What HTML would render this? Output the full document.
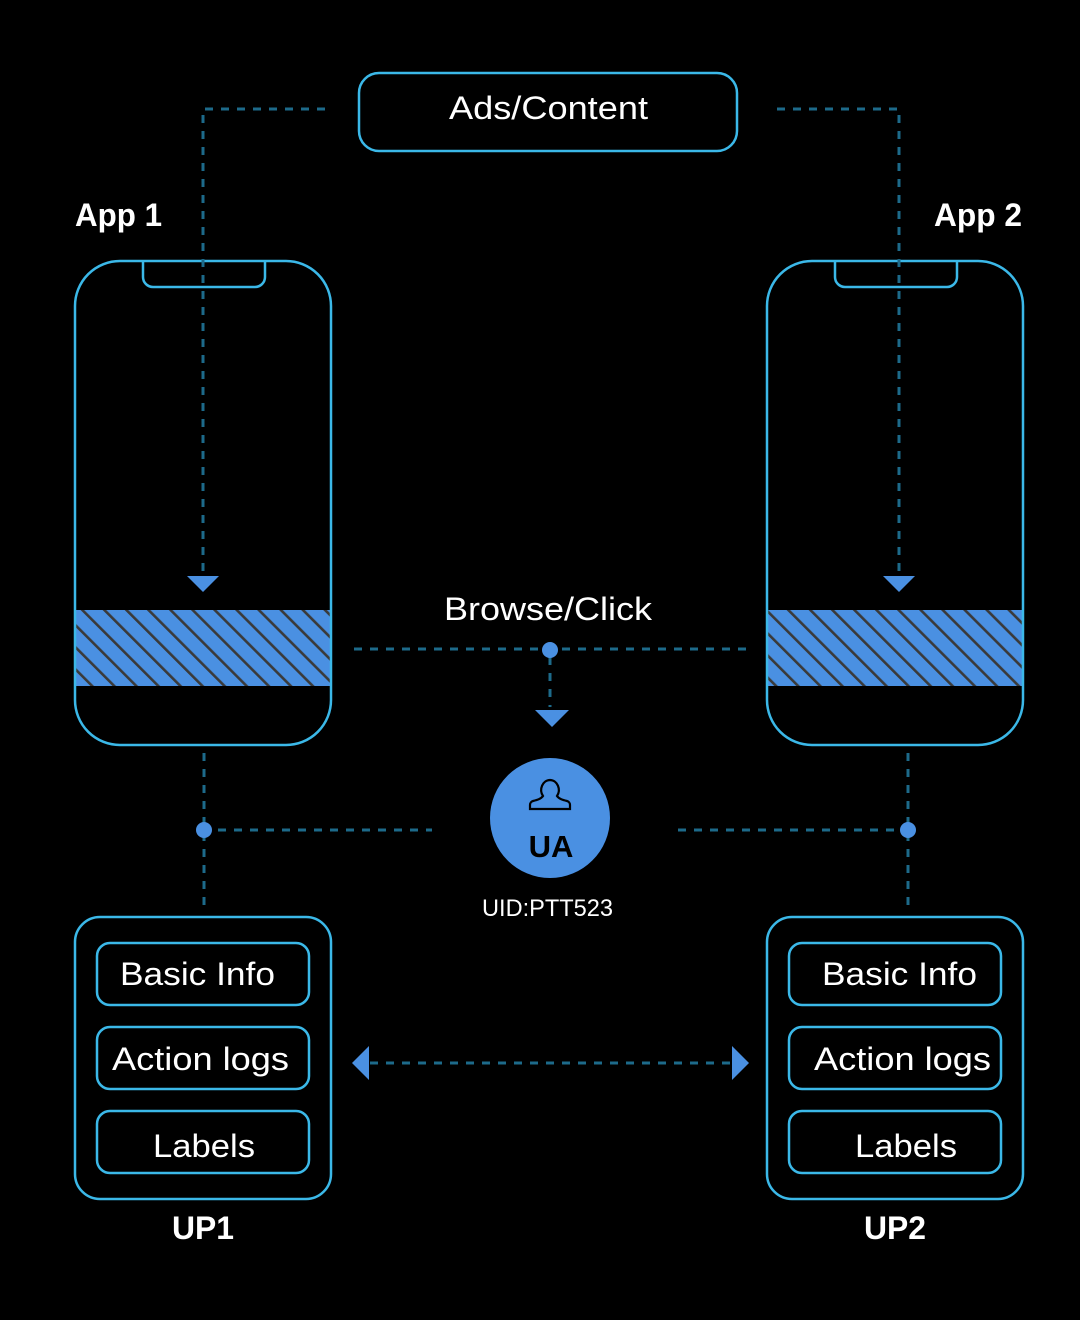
<!DOCTYPE html>
<html><head><meta charset="utf-8"><style>html,body{margin:0;padding:0;background:#000}svg{display:block}</style></head>
<body>
<svg width="1080" height="1320" viewBox="0 0 1080 1320" xmlns="http://www.w3.org/2000/svg" font-family="'Liberation Sans', sans-serif">
<defs>
<pattern id="h" patternUnits="userSpaceOnUse" width="15.6" height="15.6" patternTransform="rotate(-45)">
<rect width="15.6" height="15.6" fill="#4a90e2"/>
<rect x="0" y="0" width="2.6" height="15.6" fill="#3a3a3a"/>
</pattern>
<clipPath id="c1"><rect x="75" y="261" width="256" height="484" rx="45"/></clipPath>
<clipPath id="c2"><rect x="767" y="261" width="256" height="484" rx="45"/></clipPath>
</defs>
<rect width="1080" height="1320" fill="#000"/>

<rect x="75" y="610" width="256" height="76" fill="url(#h)" clip-path="url(#c1)"/>
<rect x="767" y="610" width="256" height="76" fill="url(#h)" clip-path="url(#c2)"/>

<g fill="none" stroke="#3bb8e8" stroke-width="2.5">
<rect x="359" y="73" width="378" height="78" rx="20"/>
<rect x="75" y="261" width="256" height="484" rx="45"/>
<rect x="767" y="261" width="256" height="484" rx="45"/>
<path d="M143 261 V277 a10 10 0 0 0 10 10 H255 a10 10 0 0 0 10 -10 V261"/>
<path d="M835 261 V277 a10 10 0 0 0 10 10 H947 a10 10 0 0 0 10 -10 V261"/>
<rect x="75" y="917" width="256" height="282" rx="25"/>
<rect x="767" y="917" width="256" height="282" rx="25"/>
<rect x="97" y="943" width="212" height="62" rx="13"/>
<rect x="97" y="1027" width="212" height="62" rx="13"/>
<rect x="97" y="1111" width="212" height="62" rx="13"/>
<rect x="789" y="943" width="212" height="62" rx="13"/>
<rect x="789" y="1027" width="212" height="62" rx="13"/>
<rect x="789" y="1111" width="212" height="62" rx="13"/>
</g>

<g fill="none" stroke="#1d6a8a" stroke-width="3" stroke-dasharray="8 8">
<path d="M325 109 H203 V572"/>
<path d="M777 109 H899 V572"/>
<path d="M354 649 H746"/>
<path d="M550 657 V707"/>
<path d="M204 753 V905"/>
<path d="M218 830 H432"/>
<path d="M908 753 V905"/>
<path d="M678 830 H894"/>
<path d="M370 1063 H734"/>
</g>

<g fill="#4a90e2">
<polygon points="187,576 219,576 203,592"/>
<polygon points="883,576 915,576 899,592"/>
<polygon points="535,710 569,710 552,727"/>
<circle cx="550" cy="650" r="8"/>
<circle cx="204" cy="830" r="8"/>
<circle cx="908" cy="830" r="8"/>
<polygon points="352,1063 369,1046 369,1080"/>
<polygon points="749,1063 732,1046 732,1080"/>
<circle cx="550" cy="818" r="60"/>
</g>
<path d="M550 780 a9 10 0 0 1 7 16 c2 3 6 4 10 5 a4 4 0 0 1 3 4 v4 h-40 v-4 a4 4 0 0 1 3 -4 c4 -1 8 -2 10 -5 a9 10 0 0 1 7 -16z" fill="none" stroke="#000" stroke-width="2.2"/>
<text x="551" y="857" text-anchor="middle" font-size="31" font-weight="bold" fill="#000">UA</text>

<g fill="#fff">
<text x="449" y="119" font-size="32" textLength="199" lengthAdjust="spacingAndGlyphs">Ads/Content</text>
<text x="75" y="226" font-size="32" font-weight="bold" textLength="87" lengthAdjust="spacingAndGlyphs">App 1</text>
<text x="934" y="226" font-size="32" font-weight="bold" textLength="88" lengthAdjust="spacingAndGlyphs">App 2</text>
<text x="444" y="620" font-size="32" textLength="208" lengthAdjust="spacingAndGlyphs">Browse/Click</text>
<text x="482" y="916" font-size="24" textLength="131" lengthAdjust="spacingAndGlyphs">UID:PTT523</text>
<text x="120" y="985" font-size="32" textLength="155" lengthAdjust="spacingAndGlyphs">Basic Info</text>
<text x="112" y="1070" font-size="32" textLength="177" lengthAdjust="spacingAndGlyphs">Action logs</text>
<text x="153" y="1157" font-size="32" textLength="102" lengthAdjust="spacingAndGlyphs">Labels</text>
<text x="822" y="985" font-size="32" textLength="155" lengthAdjust="spacingAndGlyphs">Basic Info</text>
<text x="814" y="1070" font-size="32" textLength="177" lengthAdjust="spacingAndGlyphs">Action logs</text>
<text x="855" y="1157" font-size="32" textLength="102" lengthAdjust="spacingAndGlyphs">Labels</text>
<text x="172" y="1239" font-size="32" font-weight="bold" textLength="62" lengthAdjust="spacingAndGlyphs">UP1</text>
<text x="864" y="1239" font-size="32" font-weight="bold" textLength="62" lengthAdjust="spacingAndGlyphs">UP2</text>
</g>
</svg>
</body></html>
